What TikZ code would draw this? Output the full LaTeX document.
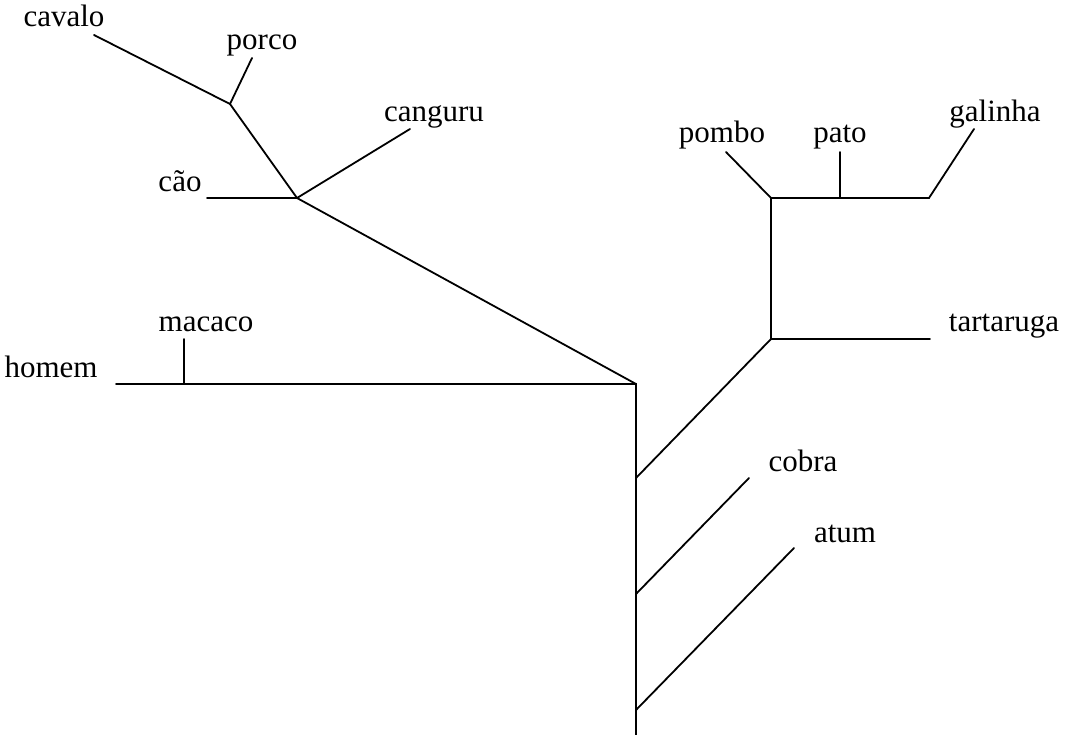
\documentclass[tikz,border=0pt]{standalone}
\usepackage{fontspec}
\setmainfont{Liberation Serif}
\usepackage{tikz}
\tikzset{
  x=1pt, y=-1pt,
  branch/.style={line width=1.8pt, line cap=round},
  taxon/.style={anchor=base, inner sep=0pt, font=\fontsize{31}{36}\selectfont}
}

\begin{document}
\begin{tikzpicture}
    \useasboundingbox (0,0) rectangle (1071,735);
    % junctions and tips
    \coordinate (root) at (636,384);
    \coordinate (base) at (636,735);
    \coordinate (jrep) at (636,478);
    \coordinate (jcob) at (636,594);
    \coordinate (jatu) at (636,710);
    \coordinate (jmam) at (297,198);
    \coordinate (jcav) at (230,104);
    \coordinate (jtar) at (771,339);
    \coordinate (jave) at (771,198);
    \coordinate (jpat) at (840,198);
    \coordinate (jgal) at (929,198);
    \coordinate (jmac) at (184,384);
    \coordinate (thom) at (116,384);
    \coordinate (tmac) at (184,339);
    \coordinate (tcao) at (207,198);
    \coordinate (tcan) at (410,129);
    \coordinate (tcav) at (94,35);
    \coordinate (tpor) at (252,58);
    \coordinate (tpom) at (726,152);
    \coordinate (tpat) at (840,152);
    \coordinate (tgal) at (974,129);
    \coordinate (ttar) at (930,339);
    \coordinate (tcob) at (749,478);
    \coordinate (tatu) at (794,548);
    % labels
    \node[taxon] (cavalo) at (64,27) {cavalo};
    \node[taxon] (porco) at (262,50) {porco};
    \node[taxon] (canguru) at (434,122) {canguru};
    \node[taxon] (cao) at (180,192) {cão};
    \node[taxon] (macaco) at (206,332) {macaco};
    \node[taxon] (homem) at (51,377) {homem};
    \node[taxon] (pombo) at (722,143) {pombo};
    \node[taxon] (pato) at (840,143) {pato};
    \node[taxon] (galinha) at (995,122) {galinha};
    \node[taxon] (tartaruga) at (1004,332) {tartaruga};
    \node[taxon] (cobra) at (803,471) {cobra};
    \node[taxon] (atum) at (845,542) {atum};
    % branches
    \draw[branch] (thom) -- (root) -- (base);
    \draw[branch] (jmac) -- (tmac);
    \draw[branch] (root) -- (jmam) -- (jcav) -- (tcav);
    \draw[branch] (jcav) -- (tpor);
    \draw[branch] (tcao) -- (jmam) -- (tcan);
    \draw[branch] (jrep) -- (jtar) -- (ttar);
    \draw[branch] (jtar) -- (jave) -- (jgal) -- (tgal);
    \draw[branch] (jave) -- (tpom);
    \draw[branch] (jpat) -- (tpat);
    \draw[branch] (jcob) -- (tcob);
    \draw[branch] (jatu) -- (tatu);
\end{tikzpicture}
\end{document}
